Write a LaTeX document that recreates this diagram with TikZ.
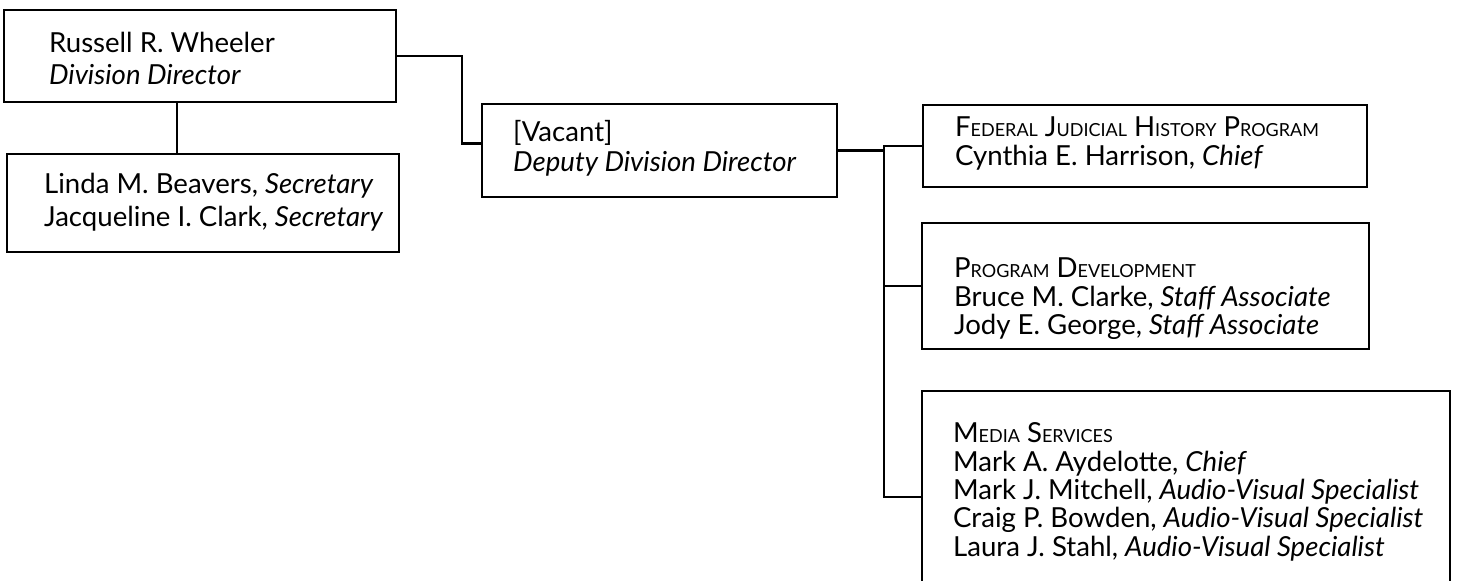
\documentclass[tikz,border=0pt]{standalone}
\usepackage{fontspec}
\setmainfont{Lato}
\usetikzlibrary{fit}
\newcommand{\smc}[1]{{\fontsize{9.0}{10}\selectfont\MakeUppercase{#1}}}
\newcommand{\lines}[1]{\begin{tabular}[t]{@{}l@{}}#1\end{tabular}}

\begin{document}
\begin{tikzpicture}[x=0.5pt, y=-0.5pt, line width=1.1pt,
    unit/.style={draw, rectangle, inner sep=0pt, fit={#1}},
    entry/.style={anchor=base west, inner sep=0pt, font=\fontsize{13.8}{#1}\selectfont}]
  \clip (0,0) rectangle (1458,581);

  % Boxes
  \node (wheeler) [unit={(4,10) (396,102)}] {};
  \node (secr)    [unit={(7,154) (399,252)}] {};
  \node (deputy)  [unit={(482,104) (837,197)}] {};
  \node (fjhp)    [unit={(923,105) (1367,187)}] {};
  \node (progdev) [unit={(922,223) (1369,349)}] {};
  \node (media)   [unit={(922,391) (1450,603)}] {};

  % Texts
  \node (wheelertxt) [entry=16] at (48,53) {\lines{Russell R. Wheeler\\\textit{Division Director}}};
  \node (secrtxt) [entry=16.5] at (43,194) {\lines{Linda M. Beavers, \textit{Secretary}\\Jacqueline I. Clark, \textit{Secretary}}};
  \node (deputytxt) [entry=15] at (512,142) {\lines{[Vacant]\\\textit{Deputy Division Director}}};
  \node (fjhptxt) [entry=13.5] at (954,137) {\lines{F\smc{ederal} J\smc{udicial} H\smc{istory} P\smc{rogram}\\Cynthia E. Harrison, \textit{Chief}}};
  \node (progdevtxt) [entry=13.25] at (953,278) {\lines{P\smc{rogram} D\smc{evelopment}\\Bruce M. Clarke, \textit{Staff Associate}\\Jody E. George, \textit{Staff Associate}}};
  \node (mediatxt) [entry=13.25] at (952,443) {\lines{M\smc{edia} S\smc{ervices}\\Mark A. Aydelotte, \textit{Chief}\\Mark J. Mitchell, \textit{Audio-Visual Specialist}\\Craig P. Bowden, \textit{Audio-Visual Specialist}\\Laura J. Stahl, \textit{Audio-Visual Specialist}}};

  % Edges
  \coordinate (sec) at (177,0);
  \coordinate (bus) at (884,0);
  \draw (wheeler.east) -- ++(65,0) |- ([yshift=3.5pt]deputy.west);
  \draw (wheeler.south -| sec) -- (secr.north -| sec);
  \draw (deputy.east) -- (deputy.east -| bus);
  \draw (fjhp.west) -- (fjhp.west -| bus) -- (media.west -| bus) -- (media.west);
  \draw (progdev.west) -- (progdev.west -| bus);
\end{tikzpicture}
\end{document}
